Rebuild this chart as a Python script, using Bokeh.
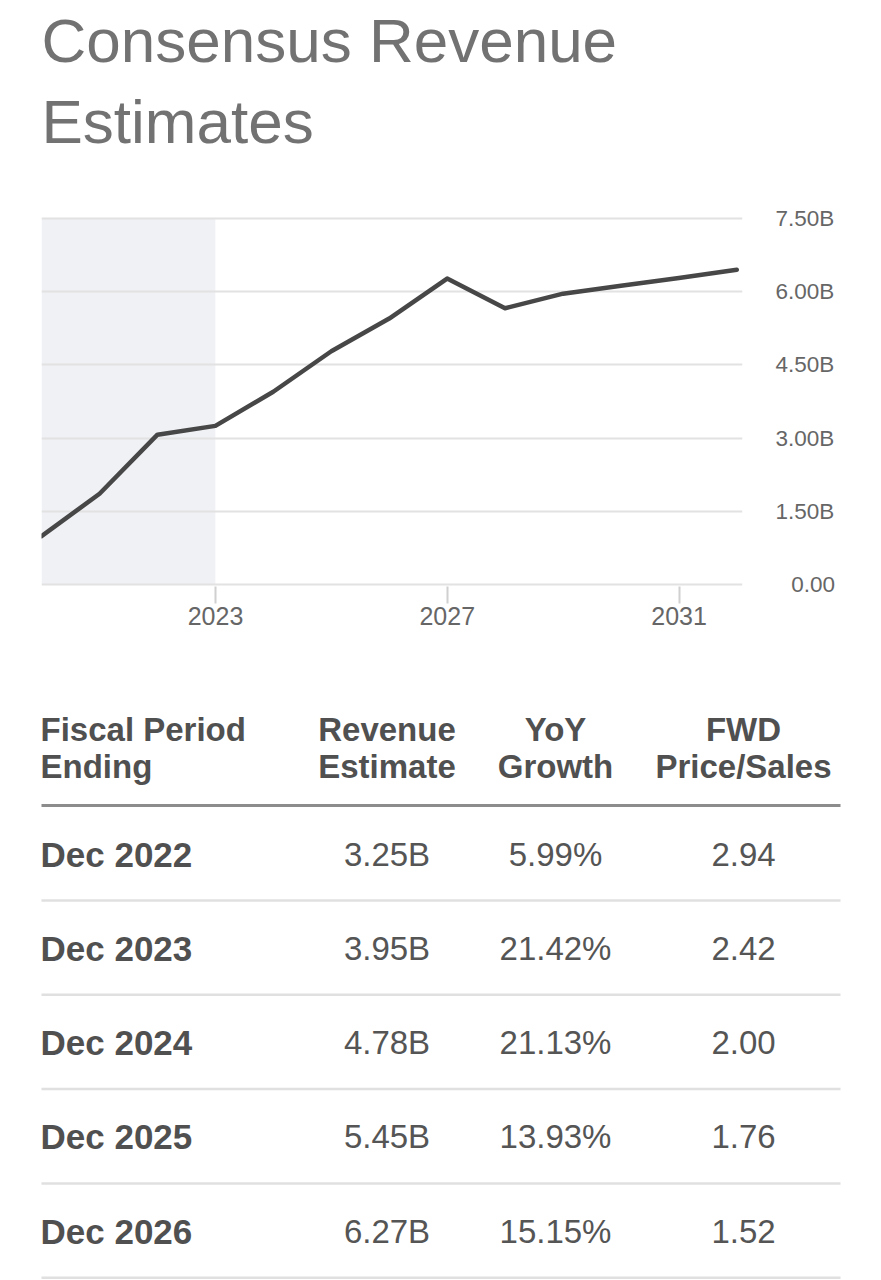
import pandas as pd
from bokeh.plotting import figure
from bokeh.models import Range1d, FixedTicker, DatetimeTickFormatter, ColumnDataSource
from bokeh.core.properties import value
from bokeh.embed import file_html
from bokeh.resources import INLINE

# ---------------- data ----------------
title_lines = ["Consensus Revenue", "Estimates"]

period_ends = ["2019-12-31", "2020-12-31", "2021-12-31", "2022-12-31", "2023-12-31",
               "2024-12-31", "2025-12-31", "2026-12-31", "2027-12-31", "2028-12-31",
               "2029-12-31", "2030-12-31", "2031-12-31"]
revenue_b = [0.99, 1.86, 3.07, 3.25, 3.95, 4.78, 5.45, 6.27, 5.66, 5.96, 6.12, 6.28, 6.45]
actual_end = "2022-12-31"

x_tick_years = [2023, 2027, 2031]
y_ticks = [0, 1.5, 3, 4.5, 6, 7.5]
y_tick_labels = ["\u2002\u20090.00", "1.50B", "3.00B", "4.50B", "6.00B", "7.50B"]

header_line1 = ["Fiscal Period", "Revenue", "YoY", "FWD"]
header_line2 = ["Ending", "Estimate", "Growth", "Price/Sales"]
table_periods = ["Dec 2022", "Dec 2023", "Dec 2024", "Dec 2025", "Dec 2026"]
table_revenue = ["3.25B", "3.95B", "4.78B", "5.45B", "6.27B"]
table_yoy = ["5.99%", "21.42%", "21.13%", "13.93%", "15.15%"]
table_ps = ["2.94", "2.42", "2.00", "1.76", "1.52"]

# ---------------- style ----------------
W = 881
FONT = value("Liberation Sans")
TEXT_DARK = "#505050"


def blank_fig(h):
    f = figure(width=W, height=h, x_range=Range1d(0, W), y_range=Range1d(h, 0),
               output_backend="svg", toolbar_location=None, min_border=0,
               x_axis_location=None, y_axis_location=None)
    f.grid.visible = False
    f.outline_line_color = None
    f.background_fill_color = "white"
    f.border_fill_color = "white"
    return f


# ---------------- title ----------------
tf = blank_fig(175)
tf.text(x=[41, 41], y=[39.5, 120.5], text=title_lines, text_font=FONT,
        text_font_size="62px", text_color="#727272", text_baseline="middle",
        text_align="left")

# ---------------- chart ----------------
dates = pd.to_datetime(period_ends)
src = ColumnDataSource(dict(date=dates, rev=revenue_b))

cf = figure(width=W, height=475, x_axis_type="datetime", y_axis_location="right",
            x_range=Range1d(pd.Timestamp("2019-12-31"), pd.Timestamp("2032-02-05")),
            y_range=Range1d(-0.041, 7.541),
            min_border_left=41, min_border_right=139, min_border_top=41, min_border_bottom=64,
            output_backend="svg", toolbar_location=None)
cf.outline_line_color = None
cf.background_fill_color = "white"
cf.border_fill_color = "white"

cf.quad(left=[dates[0]], right=[pd.Timestamp(actual_end)],
        bottom=[y_ticks[0]], top=[y_ticks[-1]],
        fill_color="#f0f1f5", line_color=None, level="image")

cf.line(x="date", y="rev", source=src, line_color="#474747", line_width=4.5,
        line_join="round", line_cap="round")

cf.xgrid.visible = False
cf.ygrid.ticker = FixedTicker(ticks=y_ticks)
cf.ygrid.grid_line_color = "#e2e2e2"
cf.ygrid.grid_line_width = 2

ya = cf.yaxis[0]
ya.ticker = FixedTicker(ticks=y_ticks)
ya.major_label_overrides = dict(zip(y_ticks, y_tick_labels))
ya.axis_line_color = None
ya.major_tick_line_color = None
ya.major_tick_in = 0
ya.major_tick_out = 0
ya.minor_tick_line_color = None
ya.major_label_standoff = 33
ya.major_label_text_font = "Liberation Sans"
ya.major_label_text_font_size = "22.5px"
ya.major_label_text_color = "#666666"

xa = cf.xaxis[0]
xa.ticker = FixedTicker(ticks=[pd.Timestamp(f"{y}-01-01").timestamp() * 1000 for y in x_tick_years])
xa.formatter = DatetimeTickFormatter(years="%Y", months="%Y", days="%Y", hours="%Y",
                                     minutes="%Y", seconds="%Y", milliseconds="%Y",
                                     hourmin="%Y", minsec="%Y")
xa.axis_line_color = None
xa.major_tick_in = 0
xa.major_tick_out = 17
xa.major_tick_line_color = "#d0d0d0"
xa.major_tick_line_width = 2
xa.minor_tick_line_color = None
xa.major_label_standoff = 3
xa.major_label_text_font = "Liberation Sans"
xa.major_label_text_font_size = "25px"
xa.major_label_text_color = "#666666"

# ---------------- table ----------------
TH = 630
tb = blank_fig(TH)
col_x = [40, 386.5, 555, 743]
col_align = ["left", "center", "center", "center"]

hdr_src1 = ColumnDataSource(dict(x=col_x, y=[78.5] * 4, t=header_line1, a=col_align))
hdr_src2 = ColumnDataSource(dict(x=col_x, y=[116] * 4, t=header_line2, a=col_align))
for s in (hdr_src1, hdr_src2):
    tb.text(x="x", y="y", text="t", text_align="a", source=s, text_font=FONT,
            text_font_style="bold", text_font_size="33px", text_color=TEXT_DARK,
            text_baseline="middle")

tb.segment(x0=[41], x1=[840], y0=[155], y1=[155], line_color="#8c8c8c", line_width=3)

pitch = 94.3
n = len(table_periods)
row_mid = [203.5 + i * pitch for i in range(n)]
row_line = [250 + i * pitch for i in range(n)]

tb.text(x=[col_x[0]] * n, y=row_mid, text=table_periods, text_font=FONT,
        text_font_style="bold", text_font_size="35px", text_color=TEXT_DARK,
        text_baseline="middle", text_align="left")
for ci, col in zip(range(1, 4), [table_revenue, table_yoy, table_ps]):
    tb.text(x=[col_x[ci]] * n, y=row_mid, text=col, text_font=FONT,
            text_font_size="33px", text_color="#555555",
            text_baseline="middle", text_align="center")

tb.segment(x0=[41] * n, x1=[840] * n, y0=row_line, y1=row_line,
           line_color="#e0e0e0", line_width=2.5)

open("out.html", "w").write(file_html([tf, cf, tb], INLINE))
